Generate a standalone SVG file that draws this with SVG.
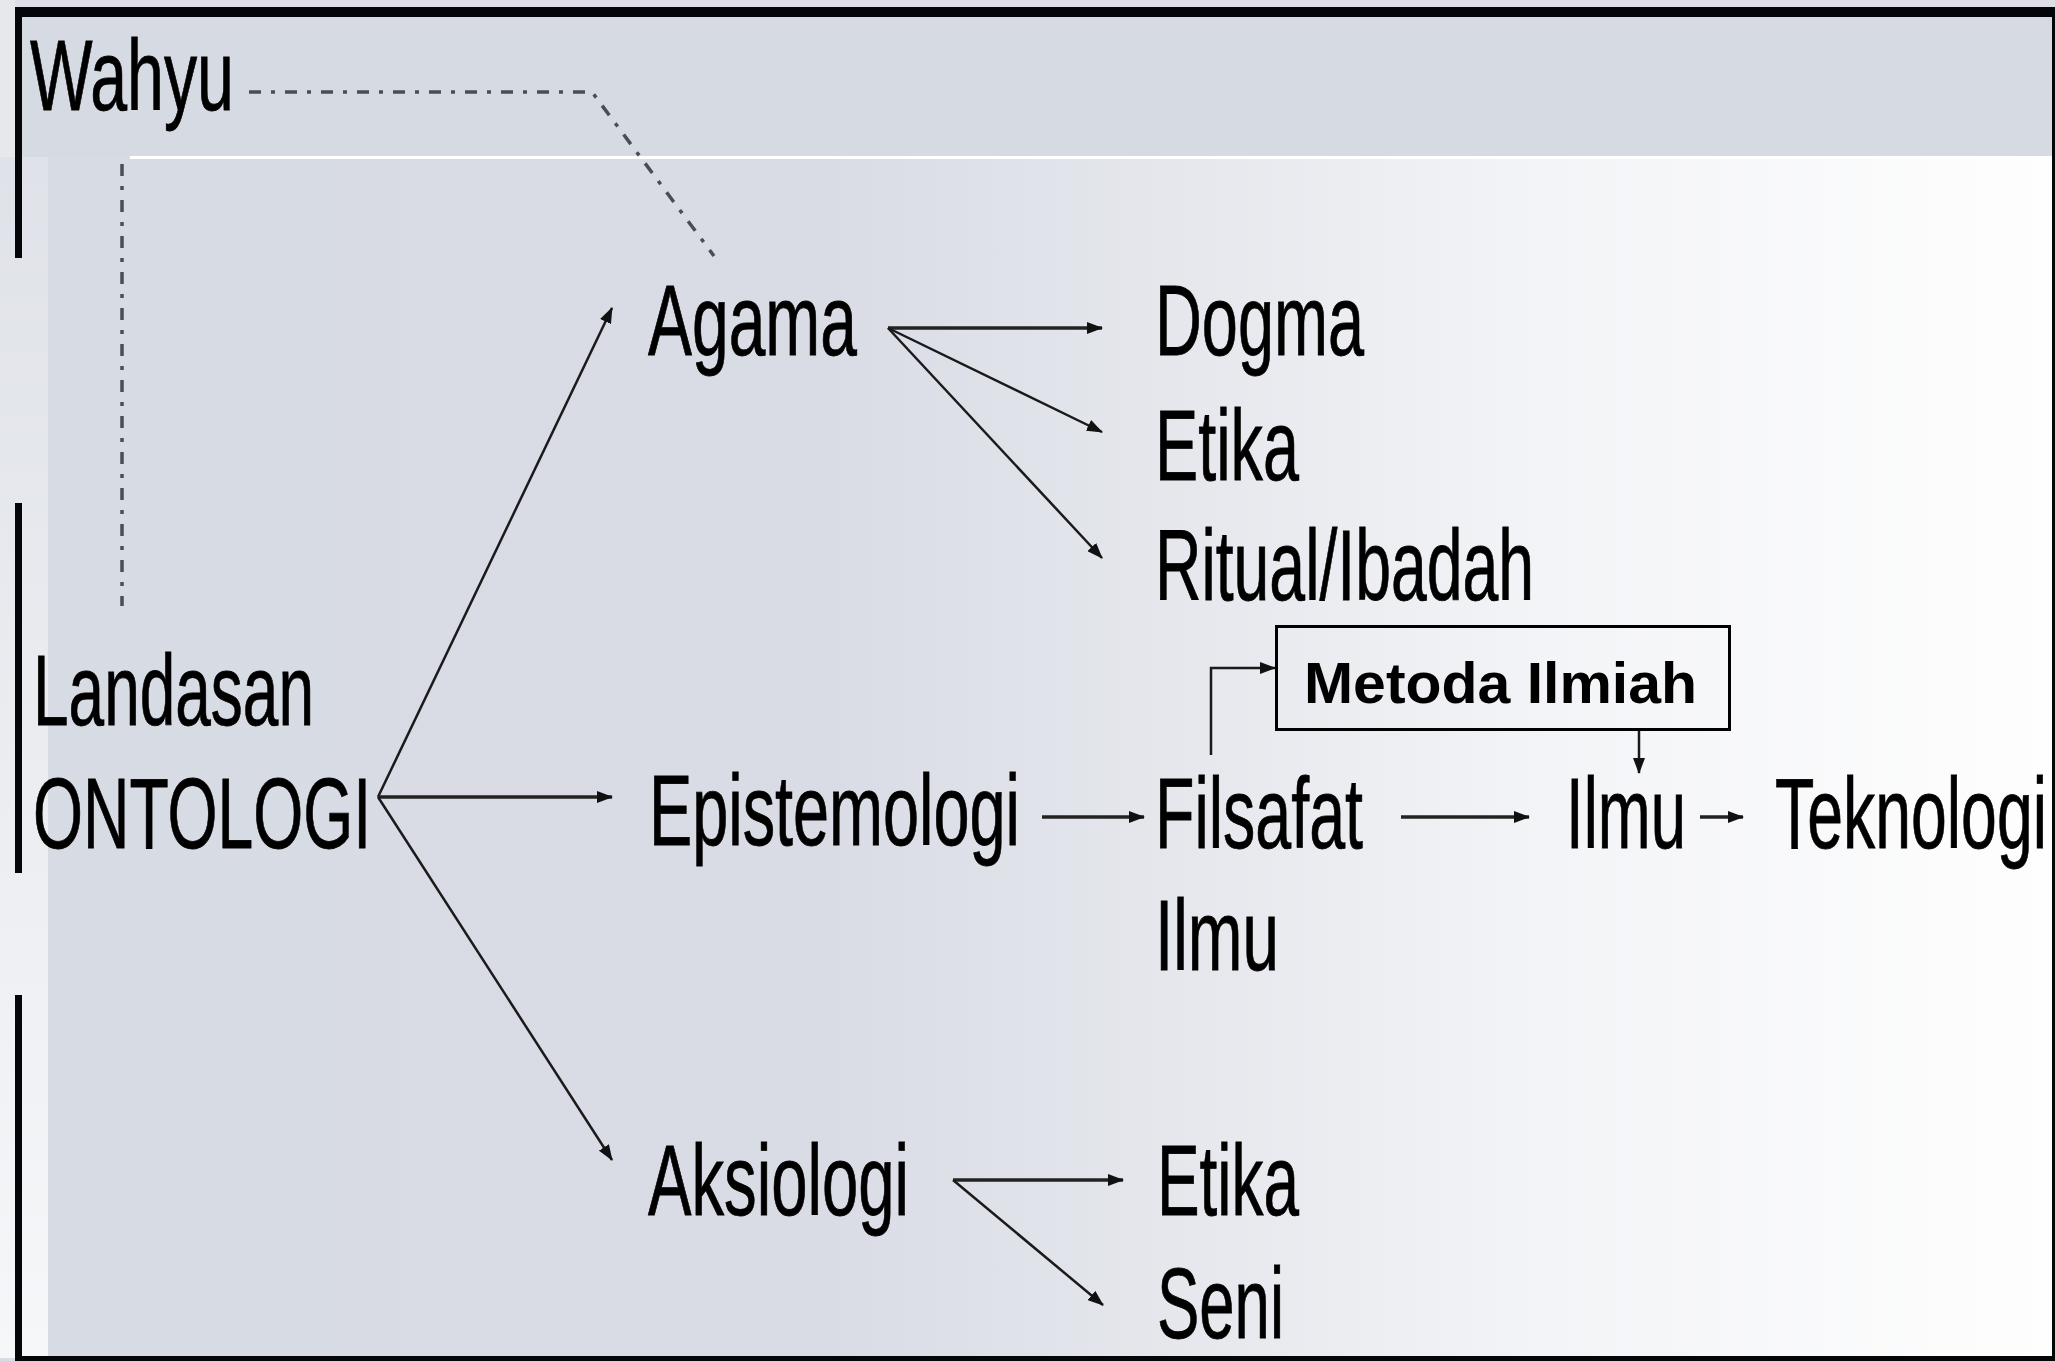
<svg xmlns="http://www.w3.org/2000/svg" width="2055" height="1361" viewBox="0 0 2055 1361">
  <defs>
    <linearGradient id="bodyGrad" x1="0" y1="0" x2="1" y2="0">
      <stop offset="0" stop-color="#d7dbe4"/>
      <stop offset="0.4" stop-color="#d9dce5"/>
      <stop offset="0.6" stop-color="#e7e9ee"/>
      <stop offset="0.75" stop-color="#f3f4f7"/>
      <stop offset="1" stop-color="#fefefe"/>
    </linearGradient>
    <linearGradient id="leftStrip" x1="0" y1="0" x2="0" y2="1">
      <stop offset="0" stop-color="#dfe2e8"/>
      <stop offset="1" stop-color="#f6f7f9"/>
    </linearGradient>
    <linearGradient id="blueFade" x1="0" y1="0" x2="1" y2="0">
      <stop offset="0" stop-color="#6a72a8"/>
      <stop offset="0.6" stop-color="#8a90b8"/>
      <stop offset="1" stop-color="#d0d4e4"/>
    </linearGradient>
    <linearGradient id="blueV" x1="0" y1="0" x2="0" y2="1">
      <stop offset="0" stop-color="#c0c4d4"/>
      <stop offset="0.3" stop-color="#4d58b8"/>
      <stop offset="0.6" stop-color="#6a72c0"/>
      <stop offset="1" stop-color="#d0d3de"/>
    </linearGradient>
    <marker id="arr" viewBox="0 0 16 12" refX="15" refY="6" markerWidth="16" markerHeight="12" markerUnits="userSpaceOnUse" orient="auto">
      <path d="M0,0 L16,6 L0,12 z" fill="#111"/>
    </marker>
  </defs>
  <style>
    .t { font-family: "Liberation Sans", Arial, sans-serif; font-size: 100px; fill: #000; stroke: #000; stroke-width: 0.8; }
    .tb { font-family: "Liberation Sans", Arial, sans-serif; font-size: 58px; font-weight: bold; fill: #000; }
    .ln { fill: none; stroke: #1a1a1a; stroke-width: 2.5; }
    .lh { fill: none; stroke: #222; stroke-width: 3.5; }
    .dd { fill: none; stroke: #4a4d55; stroke-width: 3.5; stroke-dasharray: 12 10 4 10; }
  </style>

  <!-- background -->
  <rect x="0" y="0" width="2055" height="1361" fill="#dcdfe5"/>
  <rect x="0" y="157" width="2055" height="1204" fill="url(#bodyGrad)"/>
  <rect x="0" y="17" width="2055" height="140" fill="#d6dae3"/>
  <rect x="0" y="0" width="15" height="157" fill="#e6e8ec"/>
  <rect x="0" y="157" width="48" height="1201" fill="url(#leftStrip)"/>
  <line x1="130" y1="157.5" x2="2052" y2="157.5" stroke="#ffffff" stroke-width="3"/>
  <line x1="0" y1="157.5" x2="200" y2="157.5" stroke="url(#blueFade)" stroke-width="3"/>
  <line x1="48" y1="40" x2="48" y2="330" stroke="url(#blueV)" stroke-width="2.5"/>

  <!-- frame -->
  <rect x="15" y="7" width="2040" height="10" fill="#05060a"/>
  <rect x="15" y="7" width="7" height="251" fill="#05060a"/>
  <rect x="15" y="503" width="7" height="370" fill="#05060a"/>
  <rect x="15" y="995" width="7" height="366" fill="#05060a"/>
  <rect x="15" y="1356" width="2040" height="5" fill="#05060a"/>
  <rect x="2052" y="7" width="3" height="1354" fill="#05060a"/>

  <g id="connectors">
    <polyline class="dd" points="249,92 592,92 714,256"/>
    <line class="dd" x1="122" y1="164" x2="122" y2="606"/>
    <line class="ln" x1="378" y1="797" x2="612" y2="308" marker-end="url(#arr)"/>
    <line class="lh" x1="378" y1="797" x2="612" y2="797" marker-end="url(#arr)"/>
    <line class="ln" x1="378" y1="797" x2="612" y2="1160" marker-end="url(#arr)"/>
    <line class="lh" x1="888" y1="328" x2="1102" y2="328" marker-end="url(#arr)"/>
    <line class="ln" x1="888" y1="328" x2="1102" y2="432" marker-end="url(#arr)"/>
    <line class="ln" x1="888" y1="328" x2="1102" y2="558" marker-end="url(#arr)"/>
    <line class="lh" x1="1042" y1="817" x2="1144" y2="817" marker-end="url(#arr)"/>
    <line class="lh" x1="1401" y1="817" x2="1529" y2="817" marker-end="url(#arr)"/>
    <line class="lh" x1="1700" y1="817" x2="1743" y2="817" marker-end="url(#arr)"/>
    <polyline class="ln" points="1211,755 1211,668 1275,668" marker-end="url(#arr)"/>
    <line class="ln" x1="1639" y1="730" x2="1639" y2="773" marker-end="url(#arr)"/>
    <line class="lh" x1="953" y1="1180" x2="1123" y2="1180" marker-end="url(#arr)"/>
    <line class="ln" x1="953" y1="1180" x2="1103" y2="1305" marker-end="url(#arr)"/>
  </g>

  <g id="node-wahyu"><text class="t" x="30" y="110" textLength="204" lengthAdjust="spacingAndGlyphs">Wahyu</text></g>
  <g id="node-ontologi">
    <text class="t" x="33" y="725" textLength="281" lengthAdjust="spacingAndGlyphs">Landasan</text>
    <text class="t" x="33" y="848" textLength="338" lengthAdjust="spacingAndGlyphs">ONTOLOGI</text>
  </g>
  <g id="node-agama"><text class="t" x="648" y="355" textLength="209" lengthAdjust="spacingAndGlyphs">Agama</text></g>
  <g id="node-dogma"><text class="t" x="1155" y="355" textLength="209" lengthAdjust="spacingAndGlyphs">Dogma</text></g>
  <g id="node-etika1"><text class="t" x="1155" y="480" textLength="144" lengthAdjust="spacingAndGlyphs">Etika</text></g>
  <g id="node-ritual"><text class="t" x="1155" y="600" textLength="379" lengthAdjust="spacingAndGlyphs">Ritual/Ibadah</text></g>
  <g id="node-epistemologi"><text class="t" x="649" y="845" textLength="371" lengthAdjust="spacingAndGlyphs">Epistemologi</text></g>
  <g id="node-filsafat">
    <text class="t" x="1155" y="848" textLength="208" lengthAdjust="spacingAndGlyphs">Filsafat</text>
    <text class="t" x="1155" y="970" textLength="124" lengthAdjust="spacingAndGlyphs">Ilmu</text>
  </g>
  <g id="node-metoda">
    <rect x="1276.5" y="626.5" width="453" height="103" fill="none" stroke="#000" stroke-width="3"/>
    <text class="tb" x="1304" y="703" textLength="393" lengthAdjust="spacingAndGlyphs">Metoda Ilmiah</text>
  </g>
  <g id="node-ilmu"><text class="t" x="1566" y="848" textLength="120" lengthAdjust="spacingAndGlyphs">Ilmu</text></g>
  <g id="node-teknologi"><text class="t" x="1775" y="848" textLength="272" lengthAdjust="spacingAndGlyphs">Teknologi</text></g>
  <g id="node-aksiologi"><text class="t" x="648" y="1215" textLength="261" lengthAdjust="spacingAndGlyphs">Aksiologi</text></g>
  <g id="node-etika2"><text class="t" x="1157" y="1215" textLength="142" lengthAdjust="spacingAndGlyphs">Etika</text></g>
  <g id="node-seni"><text class="t" x="1157" y="1338" textLength="127" lengthAdjust="spacingAndGlyphs">Seni</text></g>
</svg>
